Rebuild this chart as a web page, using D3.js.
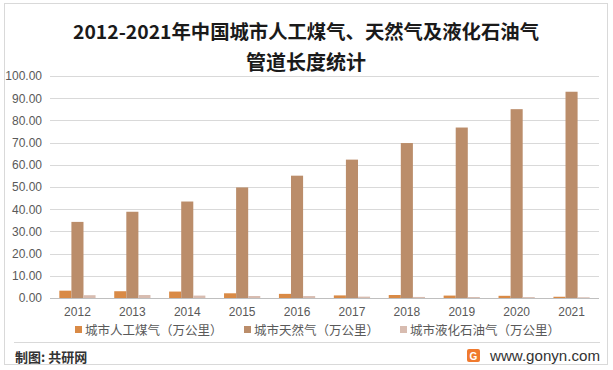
<!DOCTYPE html>
<html><head><meta charset="utf-8">
<script src="https://cdn.jsdelivr.net/npm/d3@7"></script>
<style>body{margin:0;background:#fff;}svg{display:block;font-family:"Noto Sans CJK SC","Noto Sans",sans-serif;}</style>
</head><body>
<svg id="c" width="613" height="370"></svg>
<script>
const years = ["2012","2013","2014","2015","2016","2017","2018","2019","2020","2021"];
const manmadeGas = [3.30,3.05,2.90,2.12,1.86,1.17,1.35,1.09,0.99,0.56];
const naturalGas = [34.28,38.85,43.46,49.81,55.10,62.33,69.80,76.79,85.06,92.91];
const lpg = [1.26,1.34,1.09,0.90,0.87,0.62,0.48,0.44,0.41,0.32];
const seriesNames = ["城市人工煤气（万公里）","城市天然气（万公里）","城市液化石油气（万公里）"];
const yTicks = [0,10,20,30,40,50,60,70,80,90,100];
const colors = ["#D98A46","#BB8D6A","#D8BCB0"];

const svg = d3.select("#c");
svg.append("rect").attr("x",4.5).attr("y",3.5).attr("width",603).attr("height",361)
  .attr("fill","#fff").attr("stroke","#d9d9d9");

const title = svg.append("text").attr("text-anchor","middle").attr("font-weight","bold")
  .attr("font-size",19).attr("fill","#1a1a1a");
title.append("tspan").attr("x",306).attr("y",39).attr("textLength",466).attr("lengthAdjust","spacingAndGlyphs")
  .text("2012-2021年中国城市人工煤气、天然气及液化石油气");
title.append("tspan").attr("x",306).attr("y",70).attr("font-size",20).text("管道长度统计");

const x = d3.scaleBand().domain(years).range([50,599]).paddingInner(0.34).paddingOuter(0.17);
const y = d3.scaleLinear().domain([0,100]).range([298,76]);
const sub = d3.scaleBand().domain([0,1,2]).range([0,x.bandwidth()]);

svg.append("g").selectAll("line").data(yTicks.filter(d=>d>0)).join("line")
  .attr("x1",50).attr("x2",599).attr("y1",d=>Math.round(y(d))+0.5).attr("y2",d=>Math.round(y(d))+0.5)
  .attr("stroke","#d9d9d9").attr("stroke-width",1);

const yAxis = svg.append("g").attr("transform","translate(50,0)")
  .call(d3.axisLeft(y).tickValues(yTicks).tickFormat(d3.format(".2f")).tickSize(0).tickPadding(8));
yAxis.select(".domain").remove();
yAxis.selectAll("text").attr("font-size",12).attr("fill","#595959").attr("font-family","Liberation Sans, Arial, sans-serif");

const data = [manmadeGas, naturalGas, lpg];
data.forEach((arr,si)=>{
  svg.append("g").selectAll("rect").data(arr).join("rect")
    .attr("x",(d,i)=>x(years[i])+sub(si))
    .attr("width",sub.bandwidth())
    .attr("y",d=>y(d))
    .attr("height",d=>y(0)-y(d))
    .attr("fill",colors[si]);
});

const xAxis = svg.append("g").attr("transform","translate(0,298.5)")
  .call(d3.axisBottom(x).tickSize(0).tickPadding(9));
xAxis.select(".domain").attr("stroke","#bfbfbf").attr("d","M50,0H599");
xAxis.selectAll("text").attr("font-size",12).attr("fill","#595959").attr("font-family","Liberation Sans, Arial, sans-serif");

const legX = [75,244,400];
const leg = svg.append("g");
seriesNames.forEach((n,i)=>{
  leg.append("rect").attr("x",legX[i]).attr("y",326).attr("width",7).attr("height",7).attr("fill",colors[i]);
  leg.append("text").attr("x",legX[i]+10).attr("y",334.5).attr("font-size",12.5).attr("fill","#595959").text(n);
});

svg.append("line").attr("x1",14).attr("x2",600).attr("y1",342.5).attr("y2",342.5).attr("stroke","#d9d9d9");

svg.append("text").attr("x",15).attr("y",362).attr("font-size",13).attr("font-weight","bold").attr("fill","#333").text("制图: 共研网");
svg.append("rect").attr("x",467).attr("y",349).attr("width",13).attr("height",13).attr("rx",2).attr("fill","#F07A2E");
svg.append("text").attr("x",473.5).attr("y",360).attr("text-anchor","middle").attr("font-size",10).attr("font-weight","bold").attr("fill","#fff").attr("font-family","Liberation Sans, Arial, sans-serif").text("G");
svg.append("text").attr("x",490).attr("y",361).attr("font-size",15).attr("fill","#333")
  .attr("textLength",110).attr("lengthAdjust","spacingAndGlyphs")
  .attr("font-family","Liberation Sans, Arial, sans-serif").text("www.gonyn.com");
</script>
</body></html>
